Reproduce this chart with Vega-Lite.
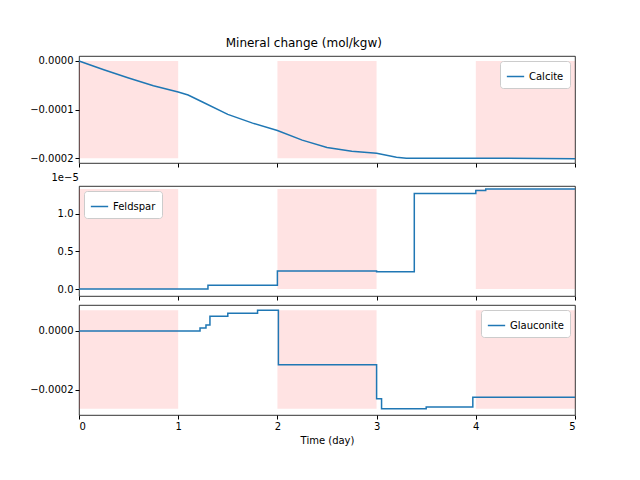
{"$schema":"https://vega.github.io/schema/vega-lite/v6.json",
"padding":{"left":29,"top":36,"right":5,"bottom":5},
"config":{"font":"DejaVu Sans","view":{"stroke":"black","strokeWidth":0.8},
 "axis":{"grid":false,"domain":false,"tickColor":"black","labelColor":"black","labelFontSize":10,"titleFontWeight":"normal","titleFontSize":10,"titleColor":"black","tickSize":4},
 "legend":{"orient":"top-right","strokeColor":"#cccccc","fillColor":"white","padding":6,"cornerRadius":3,"labelFontSize":10,"symbolType":"stroke","symbolStrokeWidth":1.5,"symbolSize":300,"title":null,"offset":5},
 "concat":{"spacing":3}},
"title":{"text":"Mineral change (mol/kgw)","fontSize":12,"fontWeight":"normal","color":"black","offset":6,"anchor":"middle"},
"datasets":{
 "shade":[{"a":0,"b":1},{"a":2,"b":3},{"a":4,"b":5}],
 "calcite":[{"t":0,"v":0},{"t":0.25,"v":-0.000018},{"t":0.5,"v":-0.000035},{"t":0.75,"v":-0.000051},{"t":1,"v":-0.000064},{"t":1.1,"v":-0.00007},{"t":1.25,"v":-0.000085},{"t":1.5,"v":-0.00011},{"t":1.75,"v":-0.000128},{"t":2,"v":-0.000143},{"t":2.25,"v":-0.000163},{"t":2.5,"v":-0.000178},{"t":2.75,"v":-0.000186},{"t":3,"v":-0.00019},{"t":3.2,"v":-0.000198},{"t":3.3,"v":-0.0002},{"t":4,"v":-0.0002},{"t":5,"v":-0.000201}],
 "feldspar":[{"t":0,"v":0},{"t":1.3,"v":0.05},{"t":2,"v":0.24},{"t":3,"v":0.23},{"t":3.38,"v":1.27},{"t":4,"v":1.31},{"t":4.1,"v":1.33},{"t":5,"v":1.33}],
 "glauconite":[{"t":0,"v":0},{"t":1.22,"v":0.00001},{"t":1.28,"v":0.00002},{"t":1.32,"v":0.00005},{"t":1.5,"v":0.00006},{"t":1.8,"v":0.00007},{"t":2.01,"v":-0.000115},{"t":3.0,"v":-0.00023},{"t":3.05,"v":-0.000264},{"t":3.5,"v":-0.000258},{"t":3.97,"v":-0.000225},{"t":5,"v":-0.000225}]
},
"vconcat":[
 {"width":496,"height":107,"layer":[
  {"data":{"name":"shade"},"mark":{"type":"rect","color":"red","opacity":0.11},
   "encoding":{"x":{"field":"a","type":"quantitative"},"x2":{"field":"b"},"y":{"datum":0},"y2":{"datum":-0.0002}}},
  {"data":{"name":"calcite"},"transform":[{"calculate":"'Calcite'","as":"s"}],"mark":{"type":"line","strokeWidth":1.5},
   "encoding":{"x":{"field":"t","type":"quantitative","scale":{"domain":[0,5],"nice":false},"axis":{"labels":false,"title":null,"values":[0,1,2,3,4,5]}},
    "y":{"field":"v","type":"quantitative","scale":{"domain":[-0.00021,0.0000102],"nice":false,"zero":false},"axis":{"title":null,"format":".4f","values":[0,-0.0001,-0.0002]}},
    "color":{"field":"s","type":"nominal","scale":{"range":["#1f77b4"]},"legend":{"orient":"top-right"}}}}
 ]},
 {"width":496,"height":110,"layer":[
  {"data":{"name":"shade"},"mark":{"type":"rect","color":"red","opacity":0.11},
   "encoding":{"x":{"field":"a","type":"quantitative"},"x2":{"field":"b"},"y":{"datum":0},"y2":{"datum":1.33}}},
  {"data":{"name":"feldspar"},"transform":[{"calculate":"'Feldspar'","as":"s"}],"mark":{"type":"line","strokeWidth":1.5,"interpolate":"step-after"},
   "encoding":{"x":{"field":"t","type":"quantitative","scale":{"domain":[0,5],"nice":false},"axis":{"labels":false,"title":null,"values":[0,1,2,3,4,5]}},
    "y":{"field":"v","type":"quantitative","scale":{"domain":[-0.093,1.37],"nice":false,"zero":false},"axis":{"title":"1e−5","titleAngle":0,"titleAnchor":"end","titleAlign":"left","titleBaseline":"bottom","titleX":-28,"titleY":-4,"format":".1f","values":[0,0.5,1]}},
    "color":{"field":"s","type":"nominal","scale":{"range":["#1f77b4"]},"legend":{"orient":"top-left"}}}}
 ]},
 {"width":496,"height":110,"layer":[
  {"data":{"name":"shade"},"mark":{"type":"rect","color":"red","opacity":0.11},
   "encoding":{"x":{"field":"a","type":"quantitative"},"x2":{"field":"b"},"y":{"datum":0.00007},"y2":{"datum":-0.000264}}},
  {"data":{"name":"glauconite"},"transform":[{"calculate":"'Glauconite'","as":"s"}],"mark":{"type":"line","strokeWidth":1.5,"interpolate":"step-after"},
   "encoding":{"x":{"field":"t","type":"quantitative","scale":{"domain":[0,5],"nice":false},"axis":{"title":"Time (day)","format":"d","values":[0,1,2,3,4,5]}},
    "y":{"field":"v","type":"quantitative","scale":{"domain":[-0.000285,0.000088],"nice":false,"zero":false},"axis":{"title":null,"format":".4f","values":[0,-0.0002]}},
    "color":{"field":"s","type":"nominal","scale":{"range":["#1f77b4"]},"legend":{"orient":"top-right"}}}}
 ]}
],
"resolve":{"scale":{"color":"independent"},"legend":{"color":"independent"}}
}
